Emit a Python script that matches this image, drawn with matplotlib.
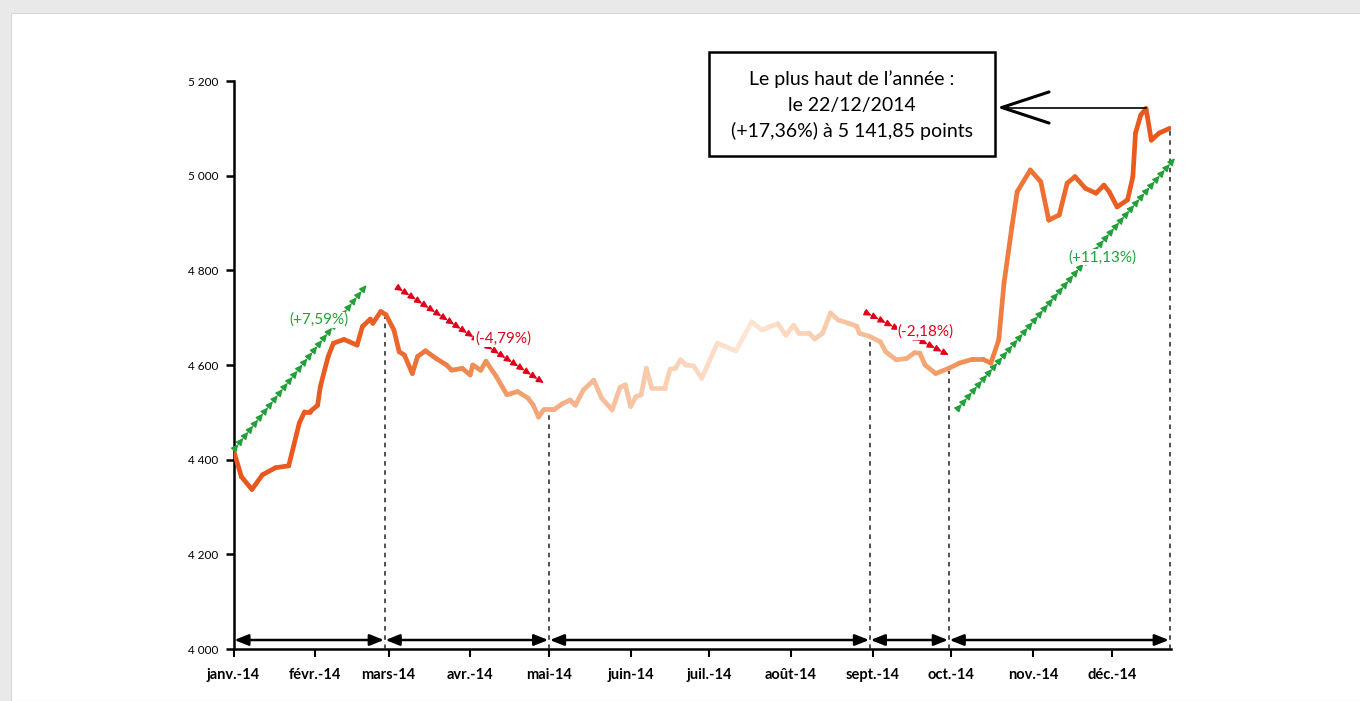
import numpy as np
import pandas as pd
import matplotlib
matplotlib.use("Agg")
import matplotlib.pyplot as plt
from matplotlib.collections import LineCollection
from matplotlib.colors import to_rgb
from matplotlib.patches import Rectangle

plt.rcParams['font.family'] = ['Lato', 'DejaVu Sans']

# ---------------- data ----------------
# day of year (0 = 1 Jan 2014) and index level
days = [0, 3, 7, 11, 16, 21, 25, 27, 29, 32,
        33, 36, 38, 42, 47, 49, 52, 53, 56, 58,
        61, 63, 65, 68, 70, 73, 77, 81, 83, 87,
        90, 91, 94, 96, 100, 104, 108, 112, 114, 116,
        118, 122, 125, 128, 130, 133, 137, 140, 144, 147,
        149, 151, 153, 155, 157, 159, 164, 166, 168, 170,
        172, 175, 178, 180, 184, 187, 191, 194, 197, 201,
        204, 207, 210, 213, 215, 219, 221, 224, 227, 230,
        234, 237, 238, 242, 246, 248, 252, 256, 259, 261,
        263, 267, 272, 276, 281, 285, 288, 291, 293, 296,
        298, 303, 307, 310, 314, 317, 320, 324, 328, 331,
        333, 336, 340, 342, 343, 345, 347, 349, 352, 356]
values = [4420, 4364, 4337, 4368, 4383, 4387, 4477, 4501, 4501, 4515,
          4554, 4618, 4646, 4654, 4642, 4681, 4697, 4688, 4713, 4706,
          4674, 4628, 4621, 4582, 4618, 4630, 4614, 4600, 4589, 4593,
          4579, 4600, 4589, 4608, 4575, 4537, 4544, 4530, 4515, 4490,
          4506, 4506, 4518, 4526, 4515, 4547, 4568, 4530, 4505, 4553,
          4558, 4512, 4533, 4537, 4593, 4551, 4551, 4591, 4593, 4611,
          4600, 4598, 4572, 4596, 4646, 4639, 4630, 4660, 4691, 4674,
          4681, 4687, 4663, 4684, 4667, 4667, 4655, 4667, 4710, 4695,
          4688, 4682, 4667, 4660, 4649, 4628, 4611, 4614, 4626, 4625,
          4600, 4582, 4593, 4604, 4612, 4612, 4604, 4653, 4773, 4892,
          4966, 5012, 4987, 4906, 4917, 4984, 4998, 4973, 4963, 4980,
          4966, 4934, 4949, 4998, 5090, 5128, 5142, 5075, 5090, 5100]

month_labels = ['janv.-14', 'févr.-14', 'mars-14', 'avr.-14', 'mai-14', 'juin-14',
                'juil.-14', 'août-14', 'sept.-14', 'oct.-14', 'nov.-14', 'déc.-14']

# phase boundaries (day of year)
phase_days = [0, 57.5, 120, 242, 272, 356]

# trend annotations: start (day, value), end (day, value), label, label pos
trend_starts = [(0, 4420), (62, 4765), (240, 4712), (275, 4505)]
trend_ends = [(50.6, 4769), (118, 4562), (272, 4621), (358, 5037)]
trend_labels = ['(+7,59%)', '(-4,79%)', '(-2,18%)', '(+11,13%)']
trend_label_pos = [(32.7, 4695), (102.5, 4655), (263.2, 4670), (330.5, 4828)]
trend_kinds = ['up', 'down', 'down', 'up']

peak_day, peak_value = 347, 5142
peak_text = ["Le plus haut de l\u2019année :", "le 22/12/2014", "(+17,36%) à 5 141,85 points"]

# ---------------- figure ----------------
W, H = 1360, 701
fig = plt.figure(figsize=(W / 100, H / 100), dpi=100, facecolor='#e9e9e9')
fig.patches.append(Rectangle((11 / W, 0), 1, 1 - 13 / H, transform=fig.transFigure,
                             facecolor='white', edgecolor='#d8d8d8', lw=0.8, zorder=-10))

ax = fig.add_axes([233.5 / W, 1 - 649 / H, (1171 - 233.5) / W, (649 - 81) / H])
ax.set_zorder(2)
ax.set_facecolor('none')
ax.set_xlim(0, 356.5)
ax.set_ylim(4000, 5200)

x = np.array(days, float)
y = np.array(values, float)

# gradient colour along the year (style)
stops_d = [0, 55, 90, 130, 195, 232, 262, 295, 330, 356]
stops_c = ['#E8561C', '#EA5F24', '#F08B52', '#F6B48C', '#FDE6D6', '#F8C6A3',
           '#F4A674', '#EF7A3B', '#EA5E21', '#E8561C']
rgb = np.array([to_rgb(c) for c in stops_c])
mid = (x[:-1] + x[1:]) / 2
cols = np.column_stack([np.interp(mid, stops_d, rgb[:, k]) for k in range(3)])
segs = np.stack([np.column_stack([x[:-1], y[:-1]]), np.column_stack([x[1:], y[1:]])], axis=1)
lc = LineCollection(segs, colors=cols, linewidths=3.4, capstyle='round', joinstyle='round', zorder=4)
ax.add_collection(lc)

# vertical dashed lines and double arrows
for d in phase_days[1:]:
    top = np.interp(d, x, y)
    ax.plot([d, d], [4000, top - 6], color='#222222', lw=1.1, ls=(0, (3, 3)), zorder=3,
            clip_on=False)
for a, b in zip(phase_days[:-1], phase_days[1:]):
    ax.annotate('', xy=(b - 0.3, 4019), xytext=(a + 0.3, 4019),
                arrowprops=dict(arrowstyle='<|-|>,head_length=0.7,head_width=0.28',
                                color='black', lw=1.8, mutation_scale=12,
                                shrinkA=0, shrinkB=0), zorder=5)

# trend arrow chains
def arrow_chain(p0, p1, color):
    d0 = ax.transData.transform(p0)
    d1 = ax.transData.transform(p1)
    n = max(3, int(np.hypot(*(d1 - d0)) / 7.6))
    xs = np.linspace(p0[0], p1[0], n + 1)
    ys = np.linspace(p0[1], p1[1], n + 1)
    for i in range(n):
        ax.annotate('', xy=(xs[i + 1], ys[i + 1]), xytext=(xs[i], ys[i]),
                    arrowprops=dict(arrowstyle='-|>,head_length=0.42,head_width=0.2',
                                    color=color, lw=1.0, mutation_scale=10,
                                    shrinkA=0, shrinkB=0), zorder=6,
                    annotation_clip=False)

green, red = '#22A03A', '#E2001A'
for s, e, lab, lp, kind in zip(trend_starts, trend_ends, trend_labels, trend_label_pos, trend_kinds):
    c = green if kind == 'up' else red
    arrow_chain(s, e, c)
    ax.text(lp[0], lp[1], lab, color=c, fontsize=11, ha='center', va='center', zorder=7,
            bbox=dict(facecolor='white', edgecolor='none', pad=0.5))

# peak annotation
box_left_day = 290.3
ax.plot([box_left_day + 3, peak_day], [peak_value + 2, peak_value + 2], color='black', lw=1.2,
        zorder=5, clip_on=False)
ax.annotate('', xy=(box_left_day, peak_value + 2), xytext=(box_left_day + 4, peak_value + 2),
            arrowprops=dict(arrowstyle='->,head_length=0.85,head_width=0.28', color='black',
                            lw=2.2, mutation_scale=40, shrinkA=0, shrinkB=0),
            zorder=6, annotation_clip=False)
fig.patches.append(Rectangle((709 / W, 1 - 156 / H), 286 / W, 104 / H, transform=fig.transFigure,
                             facecolor='white', edgecolor='black', lw=1.8, zorder=5))
for i, t in enumerate(peak_text):
    fig.text(852 / W, 1 - (79 + 26 * i) / H, t, ha='center', va='center', fontsize=14,
             color='black', zorder=6)

# axes styling
for sp in ['top', 'right']:
    ax.spines[sp].set_visible(False)
ax.spines['left'].set_linewidth(1.8)
ax.spines['bottom'].set_linewidth(1.8)
ax.set_yticks(np.arange(4000, 5201, 200))
ax.set_yticklabels([f"{int(v) // 1000} {int(v) % 1000:03d}" for v in np.arange(4000, 5201, 200)])
ax.tick_params(axis='y', direction='out', length=6, width=1.8, labelsize=8.5, pad=5)

month_starts = (pd.date_range('2014-01-01', periods=12, freq='MS').dayofyear - 1).tolist()
ax.set_xticks(month_starts)
ax.set_xticklabels(month_labels, fontweight='bold', fontsize=10.5)
ax.tick_params(axis='x', direction='out', length=6, width=1.5, pad=8)

fig.savefig('out.png', dpi=100, facecolor=fig.get_facecolor())
